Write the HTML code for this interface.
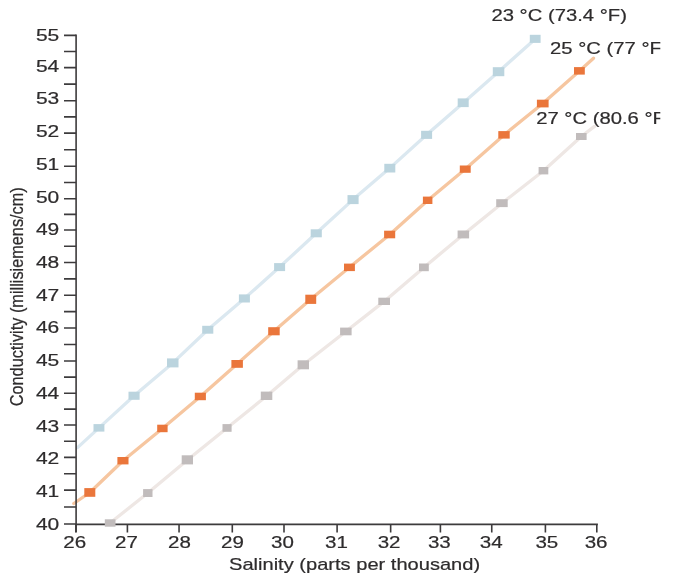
<!DOCTYPE html>
<html><head><meta charset="utf-8"><style>
html,body{margin:0;padding:0;background:#fff;}
body{width:696px;height:575px;overflow:hidden;}
svg{display:block;will-change:transform;}
text{font-family:"Liberation Sans",sans-serif;}
</style></head><body>
<svg width="696" height="575" viewBox="0 0 696 575">
<defs><clipPath id="legclip"><rect x="0" y="0" width="660.3" height="575"/></clipPath></defs>
<rect width="696" height="575" fill="#fff"/>
<path d="M77.5 447.62 L99 427.9 L134.1 395.7 L172.8 362.9 L207.8 329.7 L244.4 298.5 L279.6 267.1 L316.2 233.3 L353 199.6 L389.8 168.1 L426.6 134.8 L463.4 102.7 L498.5 71.7 L535.2 38.9" fill="none" stroke="#dbe8f0" stroke-width="3.3" stroke-linejoin="round" stroke-linecap="round"/>
<path d="M73.8 503.5 L89.8 492.5 L123 460.7 L162.4 428.5 L200.4 396.5 L237.1 363.9 L273.9 331.3 L310.7 299.3 L349.5 267.3 L389.8 234.5 L427.6 200.4 L465.4 169 L504 134.9 L542.7 103.5 L579.4 70.9 L593.5 58.2" fill="none" stroke="#f6c6a0" stroke-width="3.3" stroke-linejoin="round" stroke-linecap="round"/>
<path d="M110.1 523 L147.8 493 L187.4 459.9 L227 428 L266.6 396 L303.3 364.8 L345.8 331.5 L384.2 301.4 L423.9 267.4 L463.4 234.5 L502 203.2 L543.5 170.7 L581.3 136.5 L594.5 126.4" fill="none" stroke="#eee7e4" stroke-width="3.3" stroke-linejoin="round" stroke-linecap="round"/>
<g stroke="#3d3b3c" stroke-width="1.6" fill="none">
<path d="M76.1 34.6 V532.3 M75.3 524.4 H597.9"/>
<path d="M64 524 H76.1 M64 490.1 H76.1 M64 457.4 H76.1 M64 425 H76.1 M64 393.3 H76.1 M64 361 H76.1 M64 328 H76.1 M64 295.2 H76.1 M64 262.5 H76.1 M64 230 H76.1 M64 198.8 H76.1 M64 166.3 H76.1 M64 133.1 H76.1 M64 100.7 H76.1 M64 67.6 H76.1 M64 35.4 H76.1 M64 507.05 H76.1 M64 473.75 H76.1 M64 441.2 H76.1 M64 409.15 H76.1 M64 377.15 H76.1 M64 344.5 H76.1 M64 311.6 H76.1 M64 278.85 H76.1 M64 246.25 H76.1 M64 214.4 H76.1 M64 182.55 H76.1 M64 149.7 H76.1 M64 116.9 H76.1 M64 84.15 H76.1 M64 51.5 H76.1 M75.9 524.4 V532.6 M127.4 524.4 V532.6 M179.05 524.4 V532.6 M232.3 524.4 V532.6 M284 524.4 V532.6 M337.1 524.4 V532.6 M390.65 524.4 V532.6 M440.4 524.4 V532.6 M491.75 524.4 V532.6 M545.4 524.4 V532.6 M596.8 524.4 V532.6 "/>
</g>
<rect x="93.5" y="424.1" width="10.9" height="7.5" fill="#bbd4de"/><rect x="128.5" y="391.7" width="11.1" height="8.1" fill="#bbd4de"/><rect x="167" y="358.4" width="11.5" height="9" fill="#bbd4de"/><rect x="202.2" y="325.8" width="11.1" height="7.9" fill="#bbd4de"/><rect x="238.9" y="294.4" width="11" height="8.1" fill="#bbd4de"/><rect x="274.1" y="263.1" width="11" height="8" fill="#bbd4de"/><rect x="310.7" y="229.3" width="11.1" height="8" fill="#bbd4de"/><rect x="347.5" y="195.1" width="11.1" height="9" fill="#bbd4de"/><rect x="384.3" y="163.8" width="11" height="8.7" fill="#bbd4de"/><rect x="421.1" y="130.8" width="11" height="8.1" fill="#bbd4de"/><rect x="457.7" y="98.4" width="11" height="8.7" fill="#bbd4de"/><rect x="492.8" y="67.2" width="11.5" height="9" fill="#bbd4de"/><rect x="529.8" y="34.8" width="10.8" height="8.1" fill="#bbd4de"/>
<rect x="84.3" y="488.1" width="11" height="8.7" fill="#ea763b"/><rect x="117.4" y="457" width="11.1" height="7.4" fill="#ea763b"/><rect x="157.2" y="424.7" width="10.4" height="7.5" fill="#ea763b"/><rect x="194.8" y="392.7" width="11.1" height="7.5" fill="#ea763b"/><rect x="231.4" y="360" width="11.5" height="7.8" fill="#ea763b"/><rect x="268.2" y="327.2" width="11.5" height="8.1" fill="#ea763b"/><rect x="305.3" y="294.7" width="10.9" height="9.2" fill="#ea763b"/><rect x="344" y="263.6" width="10.9" height="7.5" fill="#ea763b"/><rect x="384.1" y="230.7" width="11.1" height="7.6" fill="#ea763b"/><rect x="422.9" y="196.6" width="9.5" height="7.4" fill="#ea763b"/><rect x="459.8" y="165.5" width="10.9" height="7.3" fill="#ea763b"/><rect x="498.3" y="131.1" width="11.4" height="7.5" fill="#ea763b"/><rect x="536.9" y="99.7" width="11.7" height="7.7" fill="#ea763b"/><rect x="574" y="67.1" width="10.8" height="7.5" fill="#ea763b"/>
<rect x="104.8" y="519.3" width="10.7" height="7.4" fill="#c1bcbc"/><rect x="143.1" y="489.1" width="9.4" height="7.9" fill="#c1bcbc"/><rect x="181.7" y="455.3" width="11.3" height="9.1" fill="#c1bcbc"/><rect x="222.5" y="424.1" width="9.1" height="7.7" fill="#c1bcbc"/><rect x="260.8" y="391.6" width="11.5" height="8.4" fill="#c1bcbc"/><rect x="297.6" y="360.3" width="11.4" height="9" fill="#c1bcbc"/><rect x="340.1" y="327.6" width="11.5" height="7.7" fill="#c1bcbc"/><rect x="378.3" y="297.7" width="11.7" height="7.3" fill="#c1bcbc"/><rect x="419" y="263.5" width="9.8" height="7.7" fill="#c1bcbc"/><rect x="457.6" y="230.5" width="11.5" height="7.9" fill="#c1bcbc"/><rect x="496.2" y="199.2" width="11.5" height="7.9" fill="#c1bcbc"/><rect x="538.6" y="167" width="9.7" height="7.4" fill="#c1bcbc"/><rect x="576" y="133" width="10.6" height="7" fill="#c1bcbc"/>
<g font-family="Liberation Sans, sans-serif" fill="#2e2c2d" stroke="#2e2c2d" stroke-width="0.2">
<text transform="translate(59.3 529.8) scale(1.33 1)" text-anchor="end" font-size="15.8">40</text>
<text transform="translate(59.3 496.9) scale(1.33 1)" text-anchor="end" font-size="15.8">41</text>
<text transform="translate(59.3 464.2) scale(1.33 1)" text-anchor="end" font-size="15.8">42</text>
<text transform="translate(59.3 431.5) scale(1.33 1)" text-anchor="end" font-size="15.8">43</text>
<text transform="translate(59.3 399) scale(1.33 1)" text-anchor="end" font-size="15.8">44</text>
<text transform="translate(59.3 366) scale(1.33 1)" text-anchor="end" font-size="15.8">45</text>
<text transform="translate(59.3 333) scale(1.33 1)" text-anchor="end" font-size="15.8">46</text>
<text transform="translate(59.3 300.8) scale(1.33 1)" text-anchor="end" font-size="15.8">47</text>
<text transform="translate(59.3 267.6) scale(1.33 1)" text-anchor="end" font-size="15.8">48</text>
<text transform="translate(59.3 235) scale(1.33 1)" text-anchor="end" font-size="15.8">49</text>
<text transform="translate(59.3 202.6) scale(1.33 1)" text-anchor="end" font-size="15.8">50</text>
<text transform="translate(59.3 170) scale(1.33 1)" text-anchor="end" font-size="15.8">51</text>
<text transform="translate(59.3 137) scale(1.33 1)" text-anchor="end" font-size="15.8">52</text>
<text transform="translate(59.3 104.4) scale(1.33 1)" text-anchor="end" font-size="15.8">53</text>
<text transform="translate(59.3 71.8) scale(1.33 1)" text-anchor="end" font-size="15.8">54</text>
<text transform="translate(59.3 40.7) scale(1.33 1)" text-anchor="end" font-size="15.8">55</text>
<text transform="translate(74.7 548) scale(1.3 1)" text-anchor="middle" font-size="15.8">26</text>
<text transform="translate(126.5 548) scale(1.3 1)" text-anchor="middle" font-size="15.8">27</text>
<text transform="translate(179.4 548) scale(1.3 1)" text-anchor="middle" font-size="15.8">28</text>
<text transform="translate(232.5 548) scale(1.3 1)" text-anchor="middle" font-size="15.8">29</text>
<text transform="translate(282.4 548) scale(1.3 1)" text-anchor="middle" font-size="15.8">30</text>
<text transform="translate(336.5 548) scale(1.3 1)" text-anchor="middle" font-size="15.8">31</text>
<text transform="translate(389.1 548) scale(1.3 1)" text-anchor="middle" font-size="15.8">32</text>
<text transform="translate(439.3 548) scale(1.3 1)" text-anchor="middle" font-size="15.8">33</text>
<text transform="translate(491.2 548) scale(1.3 1)" text-anchor="middle" font-size="15.8">34</text>
<text transform="translate(546.8 548) scale(1.3 1)" text-anchor="middle" font-size="15.8">35</text>
<text transform="translate(596.1 548) scale(1.3 1)" text-anchor="middle" font-size="15.8">36</text>
<text transform="translate(229 570.2) scale(1.272 1)" text-anchor="start" font-size="15.8">Salinity (parts per thousand)</text>
<g clip-path="url(#legclip)">
<text transform="translate(491.45 21.4) scale(1.283 1)" text-anchor="start" font-size="15.8">23 °C (73.4 °F)</text>
<text transform="translate(550.1 53.5) scale(1.283 1)" text-anchor="start" font-size="15.8">25 °C (77 °F</text>
<text transform="translate(536.2 124.1) scale(1.283 1)" text-anchor="start" font-size="15.8">27 °C (80.6 °F</text>
</g>
<text transform="translate(23.3 406.3) scale(1.18 1) rotate(-90)" font-size="16.3">Conductivity (millisiemens/cm)</text>
</g>
</svg>
</body></html>
